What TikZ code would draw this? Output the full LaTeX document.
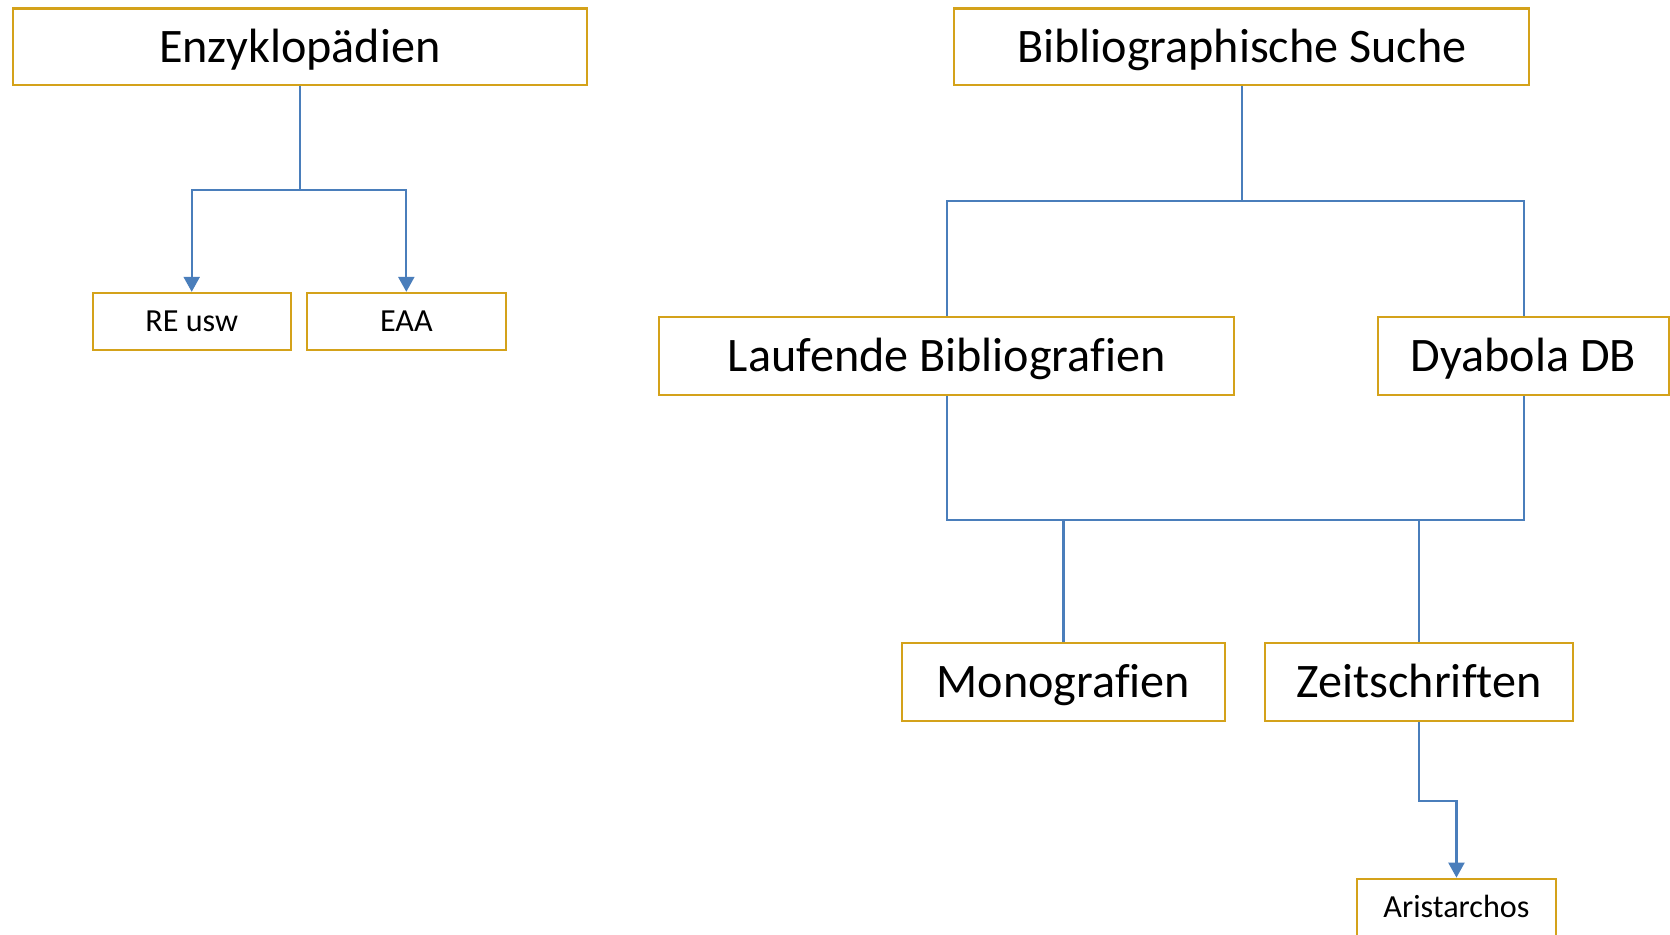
\documentclass[tikz,border=0pt]{standalone}
\usepackage{fontspec}
\setmainfont{Carlito}[Ligatures=NoCommon]
\usetikzlibrary{arrows.meta}
\definecolor{boxgold}{HTML}{D4A21A}
\definecolor{lineblue}{HTML}{4A7EBB}
\begin{document}
\begin{tikzpicture}[x=0.5pt,y=-0.5pt,
  bigbox/.style={draw=boxgold,line width=1pt,fill=white,inner sep=0pt,font=\fontsize{22.6}{27}\selectfont,text=black,text height=14.5pt,text depth=0pt},
  smallbox/.style={draw=boxgold,line width=1pt,fill=white,inner sep=0pt,font=\fontsize{15.1}{18}\selectfont,text=black,text height=9.7pt,text depth=0pt},
  conn/.style={draw=lineblue,line width=1pt},
  arr/.style={conn,-{Triangle[width=7.5pt,length=7pt]}}]
\useasboundingbox (0,0) rectangle (1568,877);
\fill[white] (0,0) rectangle (1568,877);
% nodes
\node[bigbox,minimum width=269.5pt,minimum height=36pt] (enz) at (281.5,44) {Enzyklopädien};
\node[smallbox,minimum width=93pt,minimum height=27pt] (re) at (180,302) {RE usw};
\node[smallbox,minimum width=93.5pt,minimum height=27pt] (eaa) at (381.5,302) {EAA};
\node[bigbox,minimum width=270pt,minimum height=36pt] (bib) at (1166,44) {Bibliographische Suche};
\node[bigbox,minimum width=270pt,minimum height=36.5pt] (lauf) at (889,334.5) {Laufende Bibliografien};
\node[bigbox,minimum width=136.5pt,minimum height=36.5pt] (dya) at (1430.5,334.5) {Dyabola DB};
\node[bigbox,minimum width=151.5pt,minimum height=36.5pt] (mono) at (998.5,640.5) {Monografien};
\node[bigbox,minimum width=144.5pt,minimum height=36.5pt] (zeit) at (1332.5,640.5) {Zeitschriften};
\node[smallbox,minimum width=93.5pt,minimum height=27pt] (ari) at (1367.5,852) {Aristarchos};
% junctions
\coordinate (j1) at (281.5,178);
\coordinate (j2) at (1166,189);
\coordinate (j3) at (998.5,488);
\coordinate (j4) at (1332.5,488);
% connectors
\draw[conn] (enz.south) -- (j1);
\draw[arr] (j1) -| (re.north);
\draw[arr] (j1) -| (eaa.north);
\draw[conn] (bib.south) -- (j2);
\draw[conn] (j2) -| (lauf.north);
\draw[conn] (j2) -| (dya.north);
\draw[conn] (lauf.south) |- (j3) -- (j4) -| (dya.south);
\draw[conn] (j3) -- (mono.north);
\draw[conn] (j4) -- (zeit.north);
\draw[arr] (zeit.south) -- ++(0,74) -| (ari.north);
\end{tikzpicture}
\end{document}
